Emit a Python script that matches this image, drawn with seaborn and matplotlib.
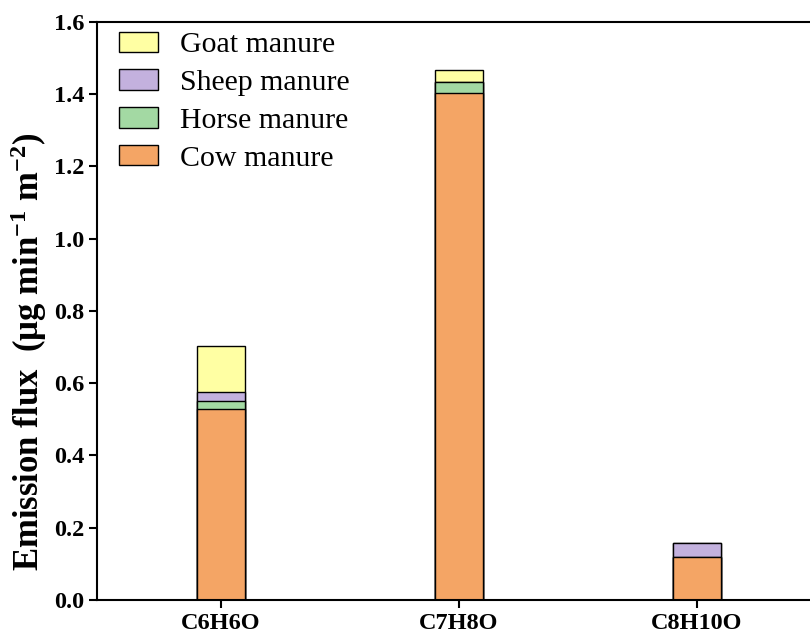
import numpy as np
import pandas as pd
import matplotlib
matplotlib.use("Agg")
import matplotlib.pyplot as plt
import seaborn as sns

# data
compounds = ["C6H6O", "C7H8O", "C8H10O"]
cow = [0.528, 1.402, 0.119]
horse = [0.022, 0.031, 0.0]
sheep = [0.026, 0.0, 0.038]
goat = [0.128, 0.033, 0.0]

sources = ["Goat manure", "Sheep manure", "Horse manure", "Cow manure"]
colors = ["#FFFFA3", "#C3B1DE", "#A3D9A3", "#F4A565"]

sns.set_style("ticks")
plt.rcParams["font.family"] = ["Liberation Serif", "DejaVu Serif"]
plt.rcParams["mathtext.fontset"] = "custom"
plt.rcParams["mathtext.rm"] = "Liberation Serif:bold"
plt.rcParams["mathtext.bf"] = "Liberation Serif:bold"
plt.rcParams["mathtext.default"] = "rm"
plt.rcParams["text.color"] = "black"
plt.rcParams["axes.labelcolor"] = "black"
plt.rcParams["xtick.color"] = "black"
plt.rcParams["ytick.color"] = "black"

fig = plt.figure(figsize=(8.1, 6.41), dpi=100)
ax = fig.add_axes([0.12, 0.064, 0.88, 0.902])

# stacked bars via cumulative totals, tallest first
layers = [cow, horse, sheep, goat]
cum = np.cumsum(np.array(layers), axis=0)
tops = {"Cow manure": cum[0], "Horse manure": cum[1],
        "Sheep manure": cum[2], "Goat manure": cum[3]}

for name, col in zip(sources, colors):
    df = pd.DataFrame({"compound": compounds, "value": tops[name]})
    sns.barplot(data=df, x="compound", y="value", color=col, width=0.2,
                edgecolor="black", linewidth=1.0, saturation=1, label=name,
                ax=ax)

ax.set_xlim(-0.52, 2.475)
ax.set_ylim(0, 1.6)
ax.set_yticks(np.arange(0, 1.61, 0.2))
ax.set_yticklabels([f"{v:.1f}" for v in np.arange(0, 1.61, 0.2)])
ax.set_xlabel("")
ax.set_ylabel("Emission flux  (μg min$^{-1}$ m$^{-2}$)",
              fontsize=25, fontweight="bold")
ax.yaxis.set_label_coords(-0.068, 0.43)

for lab in ax.get_xticklabels() + ax.get_yticklabels():
    lab.set_fontweight("bold")
    lab.set_fontsize(17.5)

ax.tick_params(axis="both", direction="out", length=6, width=1.5)
for side in ["left", "bottom", "top"]:
    ax.spines[side].set_linewidth(1.5)
    ax.spines[side].set_color("black")
ax.spines["right"].set_visible(False)
ax.spines["top"].set_visible(True)

ax.legend(loc="upper left", frameon=False, fontsize=21.5, handlelength=1.32,
          handleheight=0.68, labelspacing=0.37, handletextpad=0.73,
          borderpad=0, borderaxespad=0, bbox_to_anchor=(0.03, 0.983))

fig.savefig("out.png", dpi=100)
